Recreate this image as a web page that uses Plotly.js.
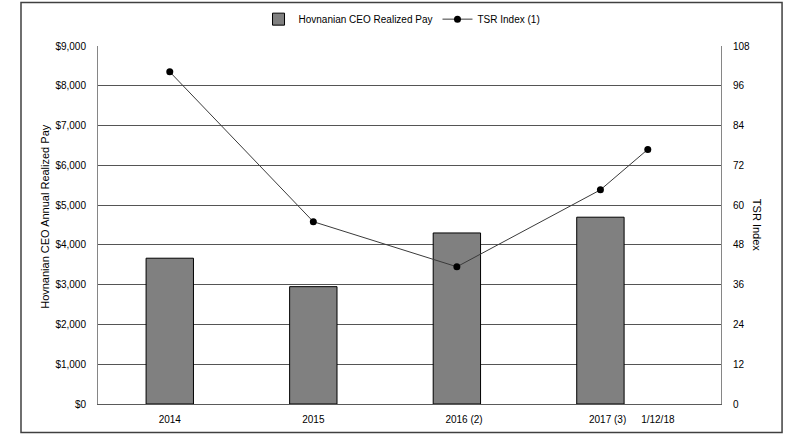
<!DOCTYPE html>
<html>
<head>
<meta charset="utf-8">
<script src="https://cdn.plot.ly/plotly-3.0.1.min.js"></script>
<style>
  html, body { margin: 0; padding: 0; background: #fff; }
  #chart { width: 800px; height: 444px; }
</style>
</head>
<body>
<div id="chart"></div>
<script>
// ---- data ----
const barCategories = ["2014", "2015", "2016 (2)", "2017 (3)"];
const barX = [0, 1, 2, 3];
const ceoPay = [3665, 2950, 4300, 4696];

const tsrCategories = ["2014", "2015", "2016 (2)", "2017 (3)", "1/12/18"];
const tsrX = [0, 1, 2, 3, 3.33];
const tsrIndex = [100.2, 55, 41.4, 64.6, 76.8];

const payTicks = [0, 1000, 2000, 3000, 4000, 5000, 6000, 7000, 8000, 9000];
const payTickLabels = ["$0", "$1,000", "$2,000", "$3,000", "$4,000", "$5,000", "$6,000", "$7,000", "$8,000", "$9,000"];
const tsrTicks = [0, 12, 24, 36, 48, 60, 72, 84, 96, 108];

// ---- layout helpers (label placement only) ----
const labelNudge = [0, 0, 0.05, 0.05, 0.07];
const xTickPos = tsrX.map((v, i) => v + labelNudge[i]);

const FONT = "Liberation Sans, Arial, sans-serif";

const traces = [
  {
    type: "bar",
    name: "Hovnanian CEO Realized Pay",
    x: barX,
    y: ceoPay,
    width: 0.33,
    marker: { color: "#808080", line: { color: "#000000", width: 1 } },
    yaxis: "y",
    hoverinfo: "skip"
  },
  {
    type: "scatter",
    mode: "lines+markers",
    name: "TSR Index (1)",
    x: tsrX,
    y: tsrIndex,
    line: { color: "#3a3a3a", width: 1 },
    marker: { color: "#000000", size: 7 },
    yaxis: "y2",
    hoverinfo: "skip"
  }
];

const layout = {
  width: 800,
  height: 444,
  margin: { l: 98, r: 79, t: 46, b: 40, autoexpand: false },
  paper_bgcolor: "#ffffff",
  plot_bgcolor: "#ffffff",
  font: { family: FONT, size: 10, color: "#000000" },
  showlegend: true,
  legend: {
    orientation: "h",
    x: 0.488, xanchor: "center",
    y: 1.075, yanchor: "middle",
    font: { family: FONT, size: 10, color: "#000" },
    traceorder: "normal",
    itemwidth: 30
  },
  xaxis: {
    range: [-0.5, 3.84],
    tickmode: "array",
    tickvals: xTickPos,
    ticktext: tsrCategories,
    showgrid: false,
    zeroline: false,
    showline: true,
    linecolor: "#5a5a5a",
    linewidth: 1,
    ticks: "outside",
    ticklen: 6,
    tickcolor: "rgba(0,0,0,0)",
    tickfont: { family: FONT, size: 10, color: "#000" },
    fixedrange: true
  },
  yaxis: {
    range: [0, 9000],
    tickmode: "array",
    tickvals: payTicks,
    ticktext: payTickLabels,
    showgrid: true,
    gridcolor: "#555555",
    gridwidth: 1,
    zeroline: false,
    showline: true,
    linecolor: "#868686",
    linewidth: 1,
    ticks: "outside",
    ticklen: 9,
    tickcolor: "rgba(0,0,0,0)",
    tickfont: { family: FONT, size: 10, color: "#000" },
    fixedrange: true
  },
  yaxis2: {
    range: [0, 108],
    overlaying: "y",
    side: "right",
    tickmode: "array",
    tickvals: tsrTicks,
    showgrid: false,
    zeroline: false,
    showline: true,
    linecolor: "#868686",
    linewidth: 1,
    ticks: "outside",
    ticklen: 9,
    tickcolor: "rgba(0,0,0,0)",
    tickfont: { family: FONT, size: 10, color: "#000" },
    fixedrange: true
  },
  annotations: [
    {
      text: "Hovnanian CEO Annual Realized Pay",
      xref: "paper", yref: "paper",
      x: -0.085, y: 0.523,
      xanchor: "center", yanchor: "middle",
      textangle: -90,
      showarrow: false,
      font: { family: FONT, size: 11, color: "#000" }
    },
    {
      text: "TSR Index",
      xref: "paper", yref: "paper",
      x: 1.058, y: 0.5,
      xanchor: "center", yanchor: "middle",
      textangle: 90,
      showarrow: false,
      font: { family: FONT, size: 11, color: "#000" }
    }
  ],
  shapes: [
    {
      type: "rect",
      xref: "paper", yref: "paper",
      x0: -0.1236, x1: 1.098,
      y0: -0.0794, y1: 1.1216,
      line: { color: "#404040", width: 1.5 },
      fillcolor: "rgba(0,0,0,0)",
      layer: "below"
    }
  ]
};

Plotly.newPlot("chart", traces, layout, { displayModeBar: false, staticPlot: true });
</script>
</body>
</html>
